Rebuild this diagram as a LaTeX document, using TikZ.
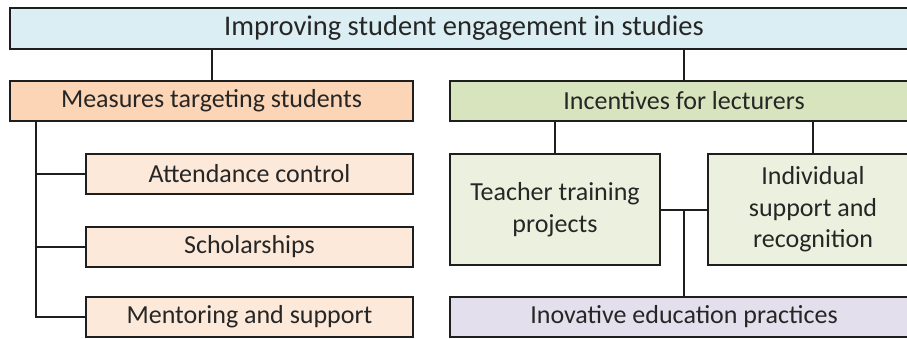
\documentclass[tikz,border=0pt]{standalone}
\usepackage{fontspec}
\setmainfont{Carlito}
\usetikzlibrary{calc}
\definecolor{lineC}{HTML}{1E1E1E}
\definecolor{textC}{HTML}{262626}
\definecolor{topC}{HTML}{DAEEF3}
\definecolor{stuC}{HTML}{FBD5B5}
\definecolor{stuSub}{HTML}{FDE9D9}
\definecolor{lecC}{HTML}{D7E4BD}
\definecolor{lecSub}{HTML}{EBF1DE}
\definecolor{innC}{HTML}{E4DFEC}
\tikzset{
  box/.style={draw=lineC, line width=2pt, inner sep=0pt, align=center,
    font=\fontsize{26}{31.5}\selectfont, text=textC},
  link/.style={draw=lineC, line width=2pt}
}
\begin{document}
\begin{tikzpicture}[x=1pt,y=-1pt]
\useasboundingbox (0,0) rectangle (907,338);
\clip (0,0) rectangle (907,338);
% goal
\node[box, fill=topC, minimum width=908pt, minimum height=41pt,
  font=\fontsize{28.5}{34}\selectfont] (goal) at (464,28.5) {Improving student engagement in studies};
% student branch
\node[box, fill=stuC, minimum width=403pt, minimum height=40pt] (stu) at (211.5,101) {Measures targeting students};
\node[box, fill=stuSub, minimum width=327pt, minimum height=40pt] (att) at (249.5,174) {Attendance control};
\node[box, fill=stuSub, minimum width=327pt, minimum height=40pt] (sch) at (249.5,247) {Scholarships};
\node[box, fill=stuSub, minimum width=327pt, minimum height=40pt] (men) at (249.5,317) {Mentoring and support};
% lecturer branch
\node[box, fill=lecC, minimum width=468pt, minimum height=40pt] (lec) at (684,101) {Incentives for lecturers};
\node[box, fill=lecSub, minimum width=210pt, minimum height=111pt] (tea) at (555,209.5) {Teacher training\\projects};
\node[box, fill=lecSub, minimum width=210pt, minimum height=111pt] (ind) at (813,209.5) {Individual\\support and\\recognition};
\node[box, fill=innC, minimum width=468pt, minimum height=40pt] (inn) at (684,317) {Inovative education practices};
% connectors
\draw[link] (stu.north) -- (stu.north |- goal.south);
\draw[link] (lec.north) -- (lec.north |- goal.south);
\coordinate (spine) at ($(stu.south west)+(27,0)$);
\draw[link] (spine) |- (men.west);
\draw[link] (spine |- att.west) -- (att.west);
\draw[link] (spine |- sch.west) -- (sch.west);
\draw[link] (tea.north) -- (tea.north |- lec.south);
\draw[link] (ind.north) -- (ind.north |- lec.south);
\draw[link] (tea.east) -- (ind.west);
\coordinate (hub) at ($(tea.east)!0.5!(ind.west)$);
\draw[link] (hub) -- (hub |- inn.north);
\end{tikzpicture}
\end{document}
